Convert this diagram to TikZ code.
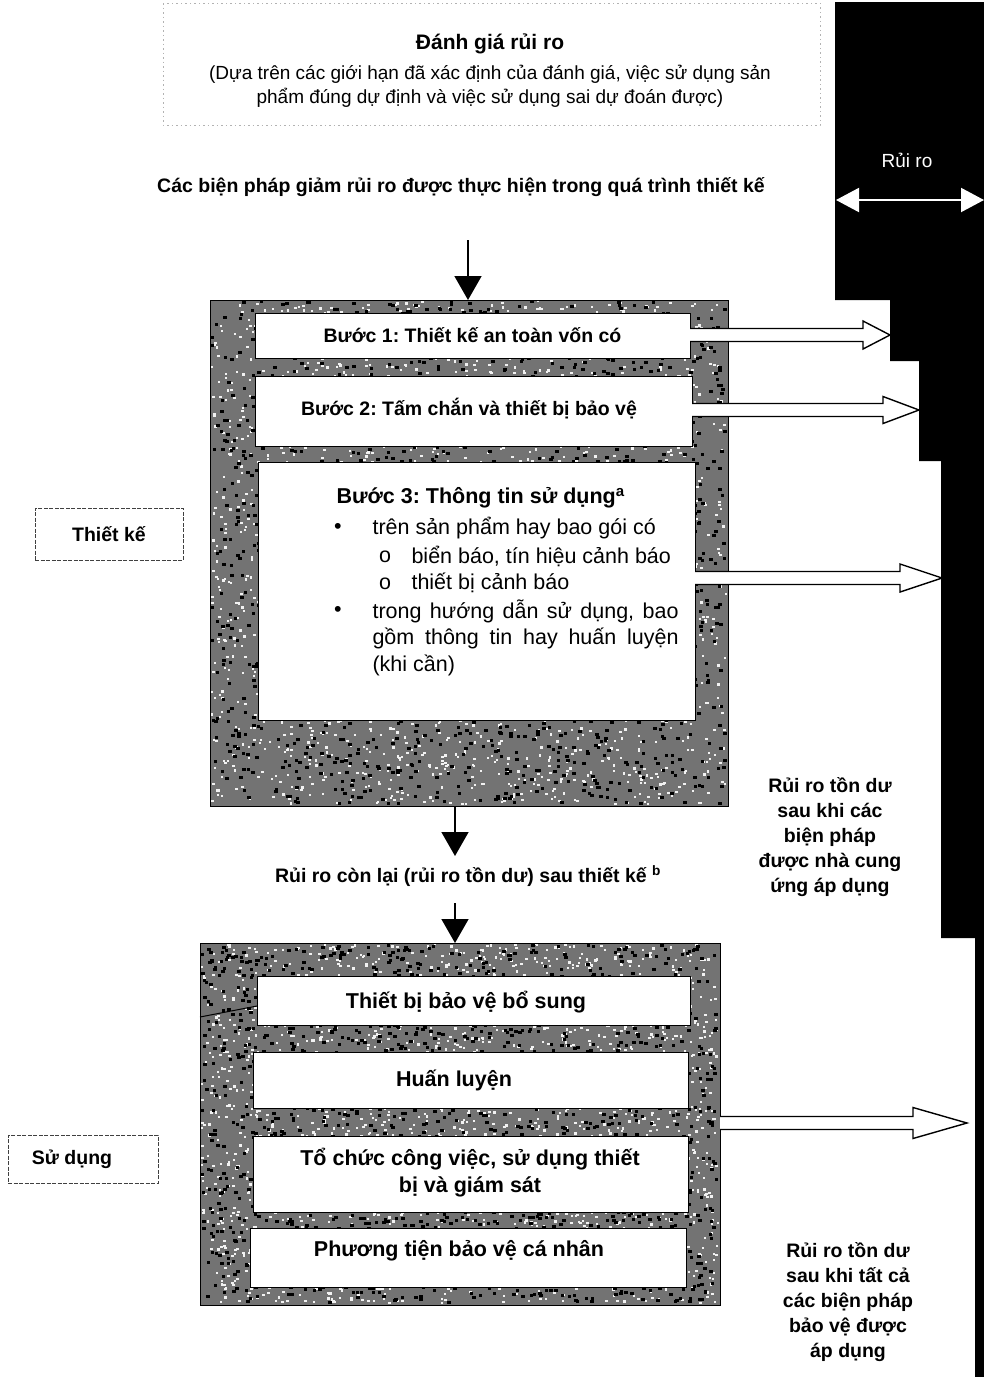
\documentclass[tikz,border=0pt]{standalone}
\usepackage{fontspec}
\setmainfont{Liberation Sans}
\frenchspacing
\usetikzlibrary{arrows.meta,calc}
\newcommand\noisefill[4]{%
  \fill[black!55] (#1,#2) rectangle (#3,#4);
  \foreach \k in {1,...,2200}{%
    \pgfmathsetmacro\rx{#1+(#3-#1-3)*rnd}%
    \pgfmathsetmacro\ry{#2+(#4-#2-3)*rnd}%
    \fill[black!5] (\rx,\ry) rectangle ++(2.5,2.2);}
  \foreach \k in {1,...,1800}{%
    \pgfmathsetmacro\rx{#1+(#3-#1-4)*rnd}%
    \pgfmathsetmacro\ry{#2+(#4-#2-4)*rnd}%
    \fill[black] (\rx,\ry) rectangle ++(3.5,3);}
  \draw[line width=1pt] (#1,#2) rectangle (#3,#4);
}
\newcommand\hollowarrow[4]{%
  \draw[harrow] let \p1=(#1), \p2=(#2) in
    (\x1,\y2+6.5pt) -- (\x2-#3,\y2+6.5pt) -- (\x2-#3,\y2+#4) -- (\x2,\y2)
    -- (\x2-#3,\y2-#4) -- (\x2-#3,\y2-6.5pt) -- (\x1,\y2-6.5pt);}
\begin{document}
\begin{tikzpicture}[x=1pt,y=-1pt,
  harrow/.style={draw=black, line width=1.4pt, fill=white, line join=miter},
  innerbox/.style={draw=black, line width=0.8pt, fill=white, rectangle, outer sep=0pt, inner sep=0pt},
  bt/.style={font=\bfseries\fontsize{19.5}{24}\selectfont},
  bt2/.style={font=\bfseries\fontsize{21.5}{27}\selectfont},
  rt/.style={font=\fontsize{21.5}{27}\selectfont},
  downarrow/.style={line width=1.6pt, -{Triangle[length=24pt,width=27pt]}},
  sidebox/.style={draw=black!75, line width=0.7pt, dash pattern=on 4pt off 1.5pt, minimum width=148pt, minimum height=50pt, inner sep=0pt, outer sep=0pt, font=\bfseries\fontsize{19.5}{24}\selectfont},
  sidetxt/.style={font=\bfseries\fontsize{19.5}{25}\selectfont, align=center}
]
\useasboundingbox (0,0) rectangle (984,1377);
\pgfmathsetseed{7}

% black risk staircase
\fill[black] (835,2) -- (984,2) -- (984,1377) -- (975,1377) -- (975,938) -- (941,938)
  -- (941,461) -- (919,461) -- (919,361) -- (890,361) -- (890,300) -- (835,300) -- cycle;
\coordinate (rl) at (836,200);
\coordinate (rr) at (984,200);
\draw[white, line width=2pt, {Triangle[length=23pt,width=24pt]}-{Triangle[length=23pt,width=24pt]}] (rl) -- (rr);
\node[white, font=\fontsize{19}{23}\selectfont] (risk) at (907,160) {Rủi ro};

% top assessment box
\draw[black!30, line width=0.6pt, dash pattern=on 1.5pt off 3pt] (163,3) rectangle (820,125);
\node[font=\bfseries\fontsize{21}{25}\selectfont] (title) at (490,44) {Đánh giá rủi ro};
\node[align=center, font=\fontsize{19}{24}\selectfont] (basis) at (490,86)
  {(Dựa trên các giới hạn đã xác định của đánh giá, việc sử dụng sản\\phẩm đúng dự định và việc sử dụng sai dự đoán được)};
\node[bt] (measures) at (461,187) {Các biện pháp giảm rủi ro được thực hiện trong quá trình thiết kế};

% design frame
\noisefill{210}{300}{728}{806}
\coordinate (f1n) at (468,300);
\coordinate (f1s) at (455,806);
\node[innerbox, minimum width=435pt, minimum height=45pt] (s1) at (472.5,335.5) {};
\node[innerbox, minimum width=437pt, minimum height=70pt] (s2) at (473.5,411) {};
\node[innerbox, minimum width=437pt, minimum height=258pt] (s3) at (476.5,591) {};
\node[bt] at (s1) {Bước 1: Thiết kế an toàn vốn có};
\node[bt] at (469,409) {Bước 2: Tấm chắn và thiết bị bảo vệ};
\node[bt2, anchor=west] (h3) at (333,498) {Bước 3: Thông tin sử dụng\textsuperscript{a}};
\node[rt] (b1) at (338,528) {•};
\node[rt, anchor=west] (l1) at (369,528) {trên sản phẩm hay bao gói có};
\node[rt] (o1) at (385,557) {o};
\node[rt, anchor=west] (l2) at (408,556) {biển báo, tín hiệu cảnh báo};
\node[rt] (o2) at (385,584) {o};
\node[rt, anchor=west] (l3) at (408,583) {thiết bị cảnh báo};
\node[rt] (b2) at (338,611) {•};
\node[rt, anchor=west] (l4) at (369,611) {\makebox[306pt][s]{trong hướng dẫn sử dụng, bao}};
\node[rt, anchor=west] (l5) at (369,638) {\makebox[306pt][s]{gồm thông tin hay huấn luyện}};
\node[rt, anchor=west] (l6) at (369,665) {(khi cần)};

% arrows out of design steps
\coordinate (t1) at (890,335);
\coordinate (t2) at (919,410);
\coordinate (t3) at (942,578);
\hollowarrow{s1.east}{t1}{27pt}{14pt}
\hollowarrow{s2.east}{t2}{36pt}{13.5pt}
\hollowarrow{s3.east |- t3}{t3}{42pt}{14pt}

% vertical flow
\coordinate (a0) at (468,240);
\draw[downarrow] (a0) -- (f1n);
\coordinate (c2) at (455,856);
\draw[downarrow] (f1s) -- (c2);
\node[bt] (resid) at (468,876) {Rủi ro còn lại (rủi ro tồn dư) sau thiết kế \textsuperscript{b}};
\coordinate (c3) at (455,903);
\coordinate (f2n) at (455,943);

% use frame
\noisefill{200}{943}{720}{1305}
\draw[downarrow] (c3) -- (f2n);
\coordinate (f2e) at (720,1123);
\draw[line width=1pt] (200,1017) -- (257,1006);
\node[innerbox, minimum width=433pt, minimum height=49pt] (u1) at (473.5,1000.5) {};
\node[innerbox, minimum width=435pt, minimum height=56pt] (u2) at (470.5,1080) {};
\node[innerbox, minimum width=435pt, minimum height=76pt] (u3) at (470.5,1174) {};
\node[innerbox, minimum width=436pt, minimum height=59pt] (u4) at (468,1257.5) {};
\node[bt2] at (466,1002) {Thiết bị bảo vệ bổ sung};
\node[bt2] at (454,1080) {Huấn luyện};
\node[bt2, align=center] at (470,1173) {Tổ chức công việc, sử dụng thiết\\bị và giám sát};
\node[bt2] at (459,1251) {Phương tiện bảo vệ cá nhân};
\coordinate (t4) at (967,1123);
\hollowarrow{f2e}{t4}{54pt}{15.5pt}

% side labels
\node[sidebox, minimum width=148pt, minimum height=52pt] (design) at (109,534) {Thiết kế};
\node[sidebox, minimum width=150pt, minimum height=48pt] (use) at (83,1159) {\hspace*{-22pt}Sử dụng};

% residual risk notes
\node[sidetxt] (note1) at (830,837) {Rủi ro tồn dư\\sau khi các\\biện pháp\\được nhà cung\\ứng áp dụng};
\node[sidetxt] (note2) at (848,1302) {Rủi ro tồn dư\\sau khi tất cả\\các biện pháp\\bảo vệ được\\áp dụng};
\end{tikzpicture}
\end{document}
